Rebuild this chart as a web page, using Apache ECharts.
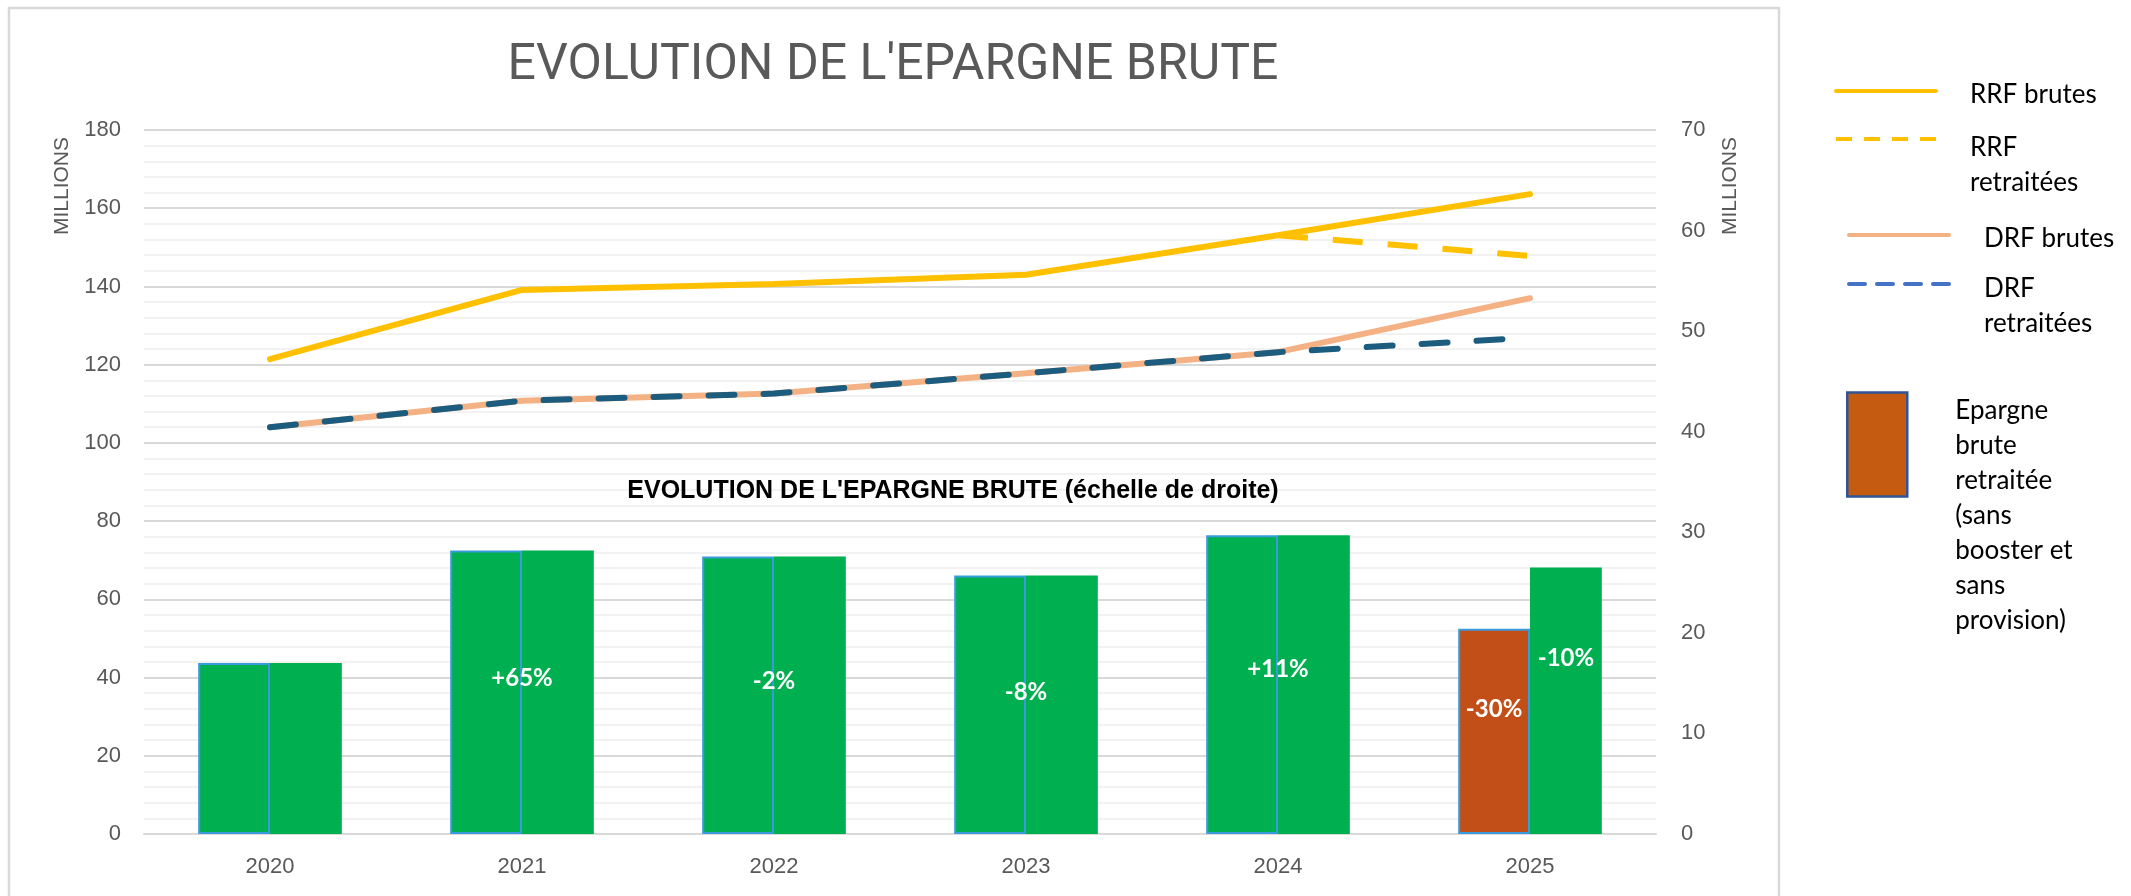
<!DOCTYPE html>
<html>
<head>
<meta charset="utf-8">
<title>Evolution de l'épargne brute</title>
<script src="https://cdn.jsdelivr.net/npm/echarts@6/dist/echarts.min.js"></script>
<style>
html, body { margin: 0; padding: 0; background: #fff; }
#chart { width: 2131px; height: 896px; }
</style>
</head>
<body>
<div id="chart"></div>
<script>
var years = ['2020', '2021', '2022', '2023', '2024', '2025'];

// échelle de gauche (millions)
var rrfBrutes = [121.4, 139.1, 140.6, 143.0, 153.1, 163.6];
var rrfRetraitees = [null, null, null, null, 153.1, 147.8];
var drfBrutes = [104.0, 110.8, 112.6, 117.8, 123.2, 137.0];
var drfRetraitees = [104.0, 110.8, 112.6, 117.8, 123.2, 126.9];

// échelle de droite (millions)
var epargneBrute = [17.0, 28.2, 27.6, 25.7, 29.7, 26.5];
var epargneRetraitee = [17.0, 28.2, 27.6, 25.7, 29.7, 20.4];
var evolBrute = ['', '+65%', '-2%', '-8%', '+11%', '-10%'];
var evolRetraitee = ['', '', '', '', '', '-30%'];

// axes
var leftMax = 180, leftStep = 20;
var rightMax = 70, rightStep = 10;

var GREEN = '#00B050';
var ORANGE = '#C24F17';
var YELLOW = '#FFC000';
var SALMON = '#F4B183';
var DARKBLUE = '#1B5C7F';

function extend() {
	var out = {};
	for (var i = 0; i < arguments.length; i++) {
		for (var k in arguments[i]) out[k] = arguments[i][k];
	}
	return out;
}

var legendNames = {
	'RRF retraitées': 'RRF\nretraitées',
	'DRF retraitées': 'DRF\nretraitées',
	'Epargne brute retraitée (sans booster et sans provision)': 'Epargne\nbrute\nretraitée\n(sans\nbooster et\nsans\nprovision)'
};

var barLabel = {
	color: '#fff',
	fontFamily: 'Lato',
	fontWeight: 700,
	fontSize: 24,
	align: 'center',
	verticalAlign: 'middle'
};

// barre de gauche : retraitée (orange quand elle diffère de la brute)
var retraiteeData = epargneRetraitee.map(function (v, i) {
	var differs = v !== epargneBrute[i];
	return {
		value: v,
		itemStyle: { color: differs ? ORANGE : GREEN },
		label: extend(barLabel, { show: differs, formatter: evolRetraitee[i], position: ['50%', '39%'] })
	};
});
// barre de droite : brute
var bruteData = epargneBrute.map(function (v, i) {
	var differs = v !== epargneRetraitee[i];
	return {
		value: v,
		label: extend(barLabel, {
			show: evolBrute[i] !== '',
			formatter: evolBrute[i],
			position: differs ? ['50%', '34%'] : ['0%', '45%']
		})
	};
});

// rich = {} pour que le padding décale le texte sous l'icône
var legendText = { fontFamily: 'Lato', fontSize: 26, color: '#000', lineHeight: 35, rich: { n: {} } };

function legendItem(name, left, top, textPad, itemW, itemH, extra) {
	return {
		left: left,
		top: top,
		orient: 'vertical',
		padding: 0,
		selectedMode: false,
		itemWidth: itemW,
		itemHeight: itemH,
		data: [extend({ name: name }, extra)],
		formatter: function (n) { return legendNames[n] || n; },
		textStyle: extend(legendText, { padding: textPad })
	};
}

var chart = echarts.init(document.getElementById('chart'));

var option = {
	backgroundColor: '#fff',
	animation: false,
	title: [{
		text: "EVOLUTION DE L'EPARGNE BRUTE",
		left: 893,
		top: 41,
		textAlign: 'center',
		padding: 0,
		textStyle: { fontFamily: 'Roboto', fontSize: 50, fontWeight: 'normal', color: '#595959' }
	}, {
		text: "EVOLUTION DE L'EPARGNE BRUTE (échelle de droite)",
		left: 953,
		top: 479,
		textAlign: 'center',
		padding: 0,
		textStyle: { fontFamily: 'Liberation Sans', fontSize: 25, fontWeight: 'bold', color: '#000' }
	}],
	legend: [
		legendItem('RRF brutes', 1834, 69.5, [8, 0, 0, 29], 100, 14, { lineStyle: { width: 4 }, itemStyle: { opacity: 0 } }),
		legendItem('RRF retraitées', 1834, 77.5, [53, 0, 0, 29], 100, 14, { lineStyle: { width: 4, type: [16, 12] }, itemStyle: { opacity: 0 } }),
		legendItem('DRF brutes', 1847, 213.5, [8, 0, 0, 30], 100, 14, { lineStyle: { width: 4 }, itemStyle: { opacity: 0 } }),
		legendItem('DRF retraitées', 1847, 226.5, [45, 0, 0, 30], 100, 14, { lineStyle: { width: 4, type: [16, 12], color: '#4472C4' }, itemStyle: { opacity: 0 } }),
		legendItem('Epargne brute retraitée (sans booster et sans provision)', 1846, 251, [142, 0, 0, 43], 60, 104,
			{ icon: 'rect', itemStyle: { color: '#C55A11', borderColor: '#2F5597', borderWidth: 2.5 } })
	],
	grid: { left: 144, right: 475, top: 130, bottom: 62 },
	xAxis: {
		type: 'category',
		data: years,
		axisLine: { lineStyle: { color: '#D9D9D9', width: 2 } },
		axisTick: { show: false },
		axisLabel: { fontFamily: 'Liberation Sans', fontSize: 22, color: '#595959', margin: 22 }
	},
	yAxis: [{
		type: 'value',
		position: 'left',
		min: 0,
		max: leftMax,
		interval: leftStep,
		axisLine: { show: false },
		axisTick: { show: false },
		axisLabel: { fontFamily: 'Liberation Sans', fontSize: 22, color: '#595959', margin: 23 },
		splitLine: { lineStyle: { color: '#D9D9D9', width: 2 } },
		minorTick: { show: false, splitNumber: 5 },
		minorSplitLine: { show: true, lineStyle: { color: '#F2F2F2', width: 2 } }
	}, {
		type: 'value',
		position: 'right',
		min: 0,
		max: rightMax,
		interval: rightStep,
		axisLine: { show: false },
		axisTick: { show: false },
		axisLabel: { fontFamily: 'Liberation Sans', fontSize: 22, color: '#595959', margin: 25 },
		splitLine: { show: false }
	}],
	graphic: [{
		type: 'rect',
		shape: { x: 9, y: 8, width: 1770, height: 900 },
		style: { fill: 'none', stroke: '#D9D9D9', lineWidth: 2.5 },
		silent: true
	}, {
		type: 'text',
		x: 62, y: 186,
		rotation: Math.PI / 2,
		style: { text: 'MILLIONS', fontFamily: 'Liberation Sans', fontSize: 21, fill: '#595959', align: 'center', verticalAlign: 'middle' }
	}, {
		type: 'text',
		x: 1730, y: 186,
		rotation: Math.PI / 2,
		style: { text: 'MILLIONS', fontFamily: 'Liberation Sans', fontSize: 21, fill: '#595959', align: 'center', verticalAlign: 'middle' }
	}],
	series: [{
		name: 'Epargne brute retraitée (sans booster et sans provision)',
		type: 'bar',
		yAxisIndex: 1,
		barGap: '0%',
		barCategoryGap: '43%',
		itemStyle: { borderColor: '#3A9BDC', borderWidth: 2 },
		data: retraiteeData
	}, {
		name: 'Epargne brute',
		type: 'bar',
		yAxisIndex: 1,
		itemStyle: { color: GREEN },
		data: bruteData
	}, {
		name: 'RRF brutes',
		type: 'line',
		yAxisIndex: 0,
		symbol: 'none',
		color: YELLOW,
		lineStyle: { color: YELLOW, width: 6, cap: 'round' },
		data: rrfBrutes,
		z: 3
	}, {
		name: 'RRF retraitées',
		type: 'line',
		yAxisIndex: 0,
		symbol: 'none',
		color: YELLOW,
		lineStyle: { color: YELLOW, width: 6, type: [30, 25] },
		data: rrfRetraitees,
		z: 3
	}, {
		name: 'DRF brutes',
		type: 'line',
		yAxisIndex: 0,
		symbol: 'none',
		color: SALMON,
		lineStyle: { color: SALMON, width: 6, cap: 'round' },
		data: drfBrutes,
		z: 4
	}, {
		name: 'DRF retraitées',
		type: 'line',
		yAxisIndex: 0,
		symbol: 'none',
		color: DARKBLUE,
		lineStyle: { color: DARKBLUE, width: 6, type: [26, 29], cap: 'round' },
		data: drfRetraitees,
		z: 5
	}]
};

chart.setOption(option);
</script>
</body>
</html>
